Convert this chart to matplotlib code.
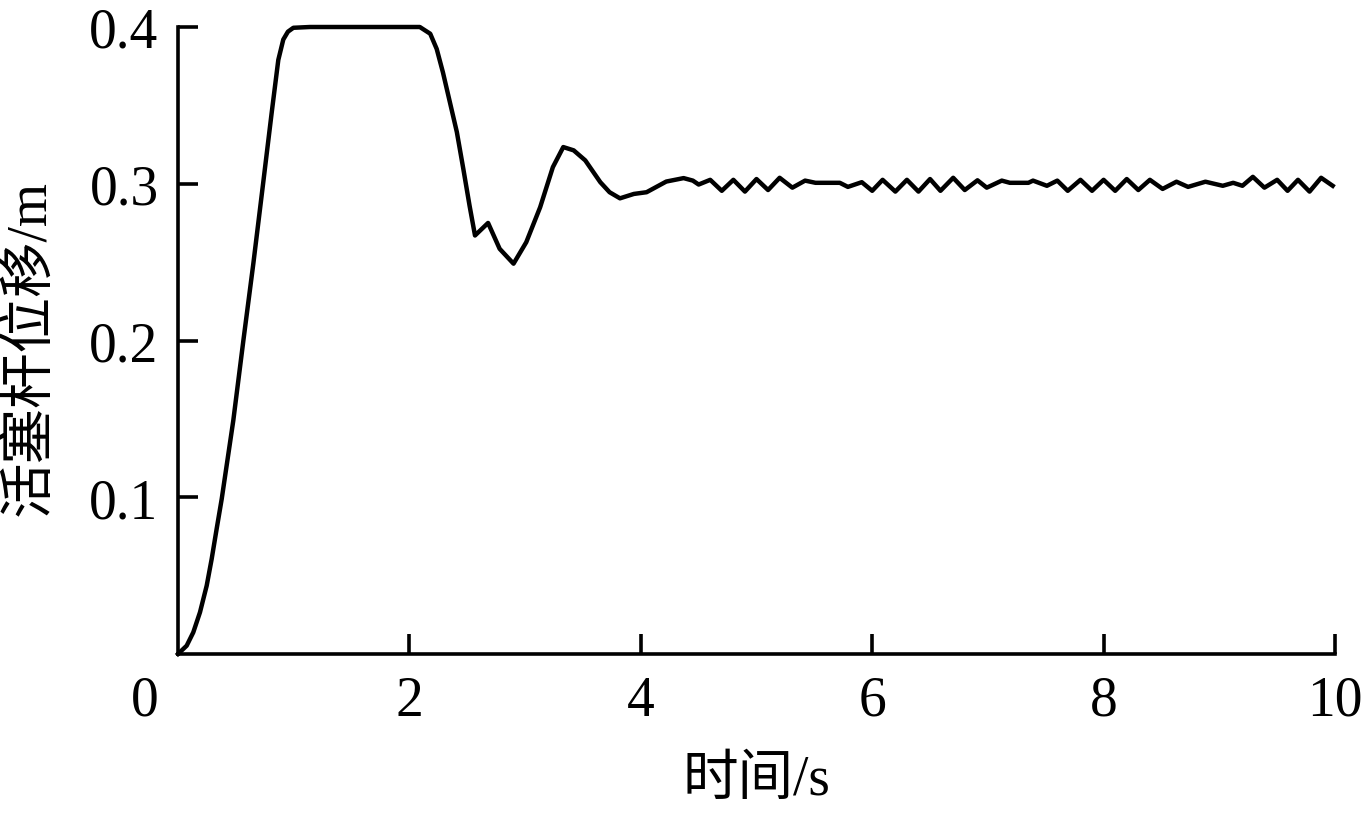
import matplotlib
matplotlib.use('Agg')
import matplotlib.pyplot as plt

# data
time_s = [0, 0.075, 0.132, 0.19, 0.248, 0.291, 0.334, 0.378, 0.478, 0.565,
          0.651, 0.737, 0.81, 0.867, 0.91, 0.95, 0.997, 1.14, 2.09, 2.18,
          2.236, 2.29, 2.35, 2.41, 2.466, 2.52, 2.567, 2.68, 2.78, 2.90,
          3.01, 3.13, 3.24, 3.33, 3.42, 3.52, 3.65, 3.73, 3.82, 3.94,
          4.05, 4.22, 4.37, 4.45, 4.50, 4.60, 4.70, 4.80, 4.90, 5.00,
          5.10, 5.20, 5.31, 5.42, 5.51, 5.72, 5.79, 5.91, 6.00, 6.09,
          6.20, 6.30, 6.40, 6.50, 6.59, 6.70, 6.80, 6.91, 6.99, 7.12,
          7.19, 7.35, 7.39, 7.51, 7.60, 7.69, 7.80, 7.90, 8.00, 8.10,
          8.20, 8.30, 8.40, 8.51, 8.63, 8.73, 8.88, 9.03, 9.12, 9.20,
          9.29, 9.39, 9.50, 9.59, 9.68, 9.78, 9.88, 9.98]
displacement = [0, 0.0053, 0.0138, 0.0266, 0.0436, 0.0606, 0.0798, 0.099, 0.149, 0.200,
                0.249, 0.301, 0.3455, 0.379, 0.392, 0.397, 0.3995, 0.4, 0.4, 0.3957,
                0.386, 0.371, 0.352, 0.333, 0.3095, 0.286, 0.267, 0.275, 0.2585, 0.249,
                0.2627, 0.285, 0.3106, 0.3234, 0.3213, 0.3149, 0.301, 0.2946, 0.2907, 0.2935,
                0.2946, 0.3014, 0.3036, 0.302, 0.2995, 0.3025, 0.2955, 0.3025, 0.295, 0.303,
                0.296, 0.3038, 0.2975, 0.302, 0.3006, 0.3006, 0.298, 0.301, 0.2955, 0.3025,
                0.295, 0.3025, 0.295, 0.303, 0.2955, 0.3038, 0.296, 0.3022, 0.2975, 0.302,
                0.3006, 0.3006, 0.302, 0.2987, 0.302, 0.2955, 0.3025, 0.2955, 0.3025, 0.2955,
                0.303, 0.296, 0.3025, 0.2967, 0.3013, 0.298, 0.3013, 0.2987, 0.3006, 0.2987,
                0.3044, 0.2975, 0.3025, 0.2955, 0.3025, 0.295, 0.3038, 0.2987]

x_ticks = [2, 4, 6, 8, 10]
y_ticks = [0.1, 0.2, 0.3, 0.4]
x_label = '时间/s'
y_label = '活塞杆位移/m'

plt.rcParams['font.family'] = ['Liberation Serif', 'Noto Sans CJK SC']
plt.rcParams['font.size'] = 40

fig = plt.figure(figsize=(13.65, 8.2), dpi=100)
ax = fig.add_axes([178 / 1365, 165 / 820, 1157 / 1365, 627 / 820])

ax.plot(time_s, displacement, color='black', linewidth=3.2, clip_on=False,
        solid_joinstyle='round')

ax.set_xlim(0, 10)
ax.set_ylim(0, 0.4)
ax.set_xticks(x_ticks)
ax.set_xticklabels([str(v) for v in x_ticks])
ax.set_yticks(y_ticks)
ax.set_yticklabels(['%.1f' % v for v in y_ticks])

for side in ['top', 'right']:
    ax.spines[side].set_visible(False)
for side in ['left', 'bottom']:
    ax.spines[side].set_linewidth(2.6)

ax.tick_params(axis='both', direction='in', length=14.5, width=2.6, labelsize=40)
ax.tick_params(axis='x', pad=15)
ax.tick_params(axis='y', pad=14)

# shared origin label
ax.annotate('0', xy=(0, 0), xycoords='axes fraction', xytext=(-14, -15),
            textcoords='offset points', ha='right', va='top', fontsize=40)

ax.set_xlabel(x_label, fontsize=40)
ax.xaxis.set_label_coords(0.5, -0.16)
ax.set_ylabel(y_label, fontsize=40)
ax.yaxis.set_label_coords(-0.105, 0.49)

fig.savefig('out.png', dpi=100)
